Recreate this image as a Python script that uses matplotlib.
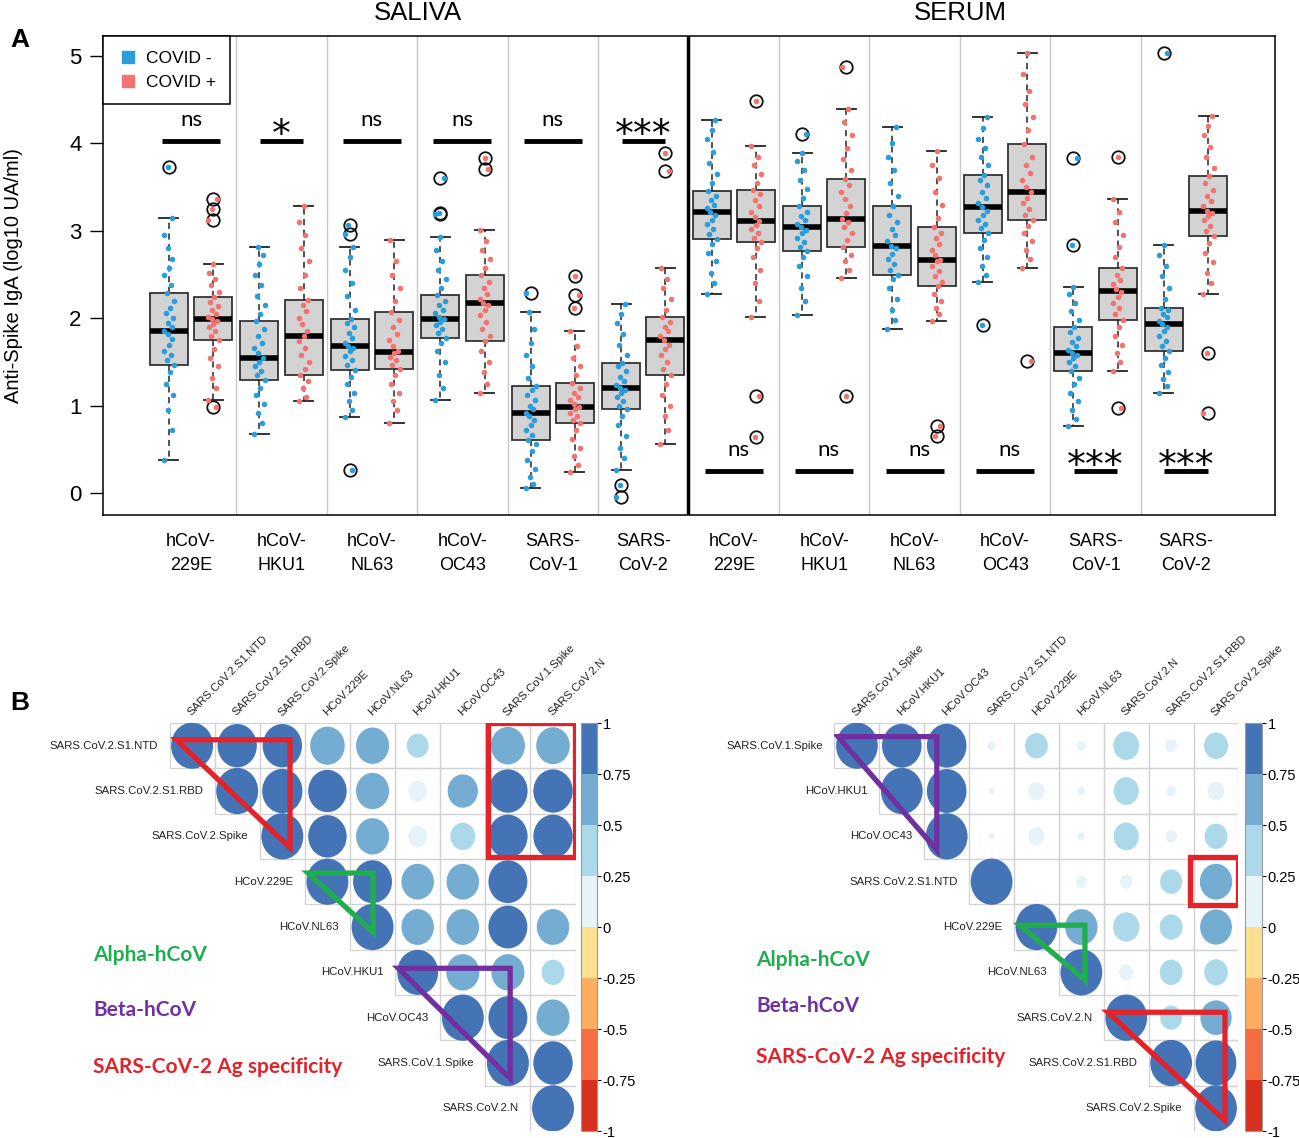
import matplotlib
matplotlib.use('Agg')
import matplotlib.pyplot as plt
import numpy as np
from matplotlib.lines import Line2D
from matplotlib.patches import Ellipse, Rectangle, Polygon
from matplotlib.colors import ListedColormap, BoundaryNorm
from matplotlib.cm import ScalarMappable

plt.rcParams['font.family'] = ['Liberation Sans', 'DejaVu Sans']

# ---------------- panel A data ----------------
virus_labels = ['hCoV-\n229E', 'hCoV-\nHKU1', 'hCoV-\nNL63', 'hCoV-\nOC43',
                'SARS-\nCoV-1', 'SARS-\nCoV-2'] * 2

# boxes in order: saliva 229E neg, saliva 229E pos, saliva HKU1 neg, ...
box_med = [1.85, 1.99, 1.55, 1.80, 1.68, 1.61, 1.99, 2.18, 0.92, 0.99, 1.20, 1.75,
           3.22, 3.11, 3.04, 3.14, 2.83, 2.67, 3.27, 3.44, 1.60, 2.31, 1.93, 3.23]
box_q1 = [1.46, 1.75, 1.29, 1.35, 1.41, 1.42, 1.78, 1.74, 0.61, 0.80, 0.96, 1.35,
          2.91, 2.87, 2.77, 2.82, 2.49, 2.37, 2.98, 3.12, 1.40, 1.98, 1.62, 2.94]
box_q3 = [2.29, 2.24, 1.97, 2.21, 1.99, 2.07, 2.27, 2.49, 1.23, 1.26, 1.49, 2.01,
          3.46, 3.47, 3.29, 3.59, 3.28, 3.04, 3.64, 3.99, 1.90, 2.57, 2.12, 3.63]
box_lo = [0.38, 1.06, 0.68, 1.05, 0.87, 0.80, 1.06, 1.15, 0.06, 0.24, 0.26, 0.56,
          2.28, 2.01, 2.04, 2.46, 1.88, 1.97, 2.41, 2.58, 0.77, 1.40, 1.14, 2.28]
box_hi = [3.15, 2.62, 2.81, 3.29, 2.81, 2.90, 2.93, 3.01, 2.07, 1.86, 2.16, 2.57,
          4.27, 3.97, 3.89, 4.40, 4.19, 3.91, 4.30, 5.04, 2.36, 3.37, 2.84, 4.32]
box_out = [[3.73], [3.37, 3.25, 3.12, 0.99], [], [], [3.07, 2.96, 0.26], [],
           [3.61, 3.21, 3.19], [3.83, 3.71], [2.29], [2.48, 2.27, 2.12], [0.09, -0.04], [3.89, 3.69],
           [], [4.49, 1.11, 0.64], [4.11], [4.87, 1.11], [], [0.77, 0.65],
           [1.92], [1.51], [3.83, 2.84], [3.84, 0.97], [5.03], [1.60, 0.92]]

points = [
    [0.38, 0.72, 0.95, 1.12, 1.25, 1.38, 1.46, 1.52, 1.58, 1.63, 1.7, 1.76, 1.82, 1.85, 1.9, 1.95, 2.0, 2.06, 2.12, 2.2, 2.29, 2.38, 2.5, 2.58, 2.68, 2.8, 2.95, 3.15],
    [1.06, 1.2, 1.32, 1.45, 1.55, 1.65, 1.75, 1.8, 1.85, 1.9, 1.94, 1.97, 1.99, 2.02, 2.05, 2.1, 2.14, 2.19, 2.24, 2.3, 2.38, 2.45, 2.52, 2.62],
    [0.68, 0.8, 0.92, 1.02, 1.12, 1.2, 1.29, 1.35, 1.4, 1.45, 1.5, 1.55, 1.6, 1.66, 1.72, 1.8, 1.88, 1.97, 2.05, 2.15, 2.25, 2.38, 2.5, 2.62, 2.72, 2.81],
    [1.05, 1.1, 1.2, 1.28, 1.35, 1.42, 1.5, 1.58, 1.66, 1.74, 1.8, 1.86, 1.93, 2.0, 2.08, 2.15, 2.21, 2.35, 2.5, 2.65, 2.8, 2.95, 3.1, 3.29],
    [0.87, 0.95, 1.05, 1.15, 1.25, 1.33, 1.41, 1.46, 1.52, 1.57, 1.62, 1.66, 1.68, 1.72, 1.77, 1.83, 1.9, 1.95, 1.99, 2.1, 2.25, 2.4, 2.55, 2.7, 2.81],
    [0.80, 0.95, 1.05, 1.15, 1.25, 1.35, 1.42, 1.47, 1.52, 1.56, 1.6, 1.63, 1.68, 1.75, 1.82, 1.9, 1.98, 2.07, 2.2, 2.35, 2.5, 2.65, 2.9],
    [1.06, 1.2, 1.35, 1.5, 1.62, 1.72, 1.78, 1.83, 1.88, 1.92, 1.96, 1.99, 2.02, 2.06, 2.1, 2.15, 2.2, 2.27, 2.35, 2.45, 2.55, 2.65, 2.78, 2.93],
    [1.15, 1.25, 1.38, 1.5, 1.62, 1.74, 1.8, 1.88, 1.96, 2.04, 2.1, 2.15, 2.18, 2.22, 2.28, 2.35, 2.42, 2.49, 2.58, 2.68, 2.78, 2.88, 3.01],
    [0.06, 0.1, 0.18, 0.28, 0.38, 0.48, 0.56, 0.61, 0.66, 0.72, 0.78, 0.84, 0.88, 0.92, 0.96, 1.0, 1.06, 1.12, 1.18, 1.23, 1.32, 1.45, 1.58, 1.72, 1.88, 2.07],
    [0.24, 0.32, 0.42, 0.52, 0.62, 0.72, 0.8, 0.84, 0.88, 0.92, 0.96, 0.99, 1.02, 1.06, 1.1, 1.15, 1.2, 1.26, 1.35, 1.45, 1.55, 1.68, 1.86],
    [0.26, 0.4, 0.52, 0.65, 0.78, 0.88, 0.96, 1.0, 1.05, 1.1, 1.14, 1.18, 1.2, 1.24, 1.28, 1.33, 1.4, 1.45, 1.49, 1.58, 1.7, 1.82, 1.95, 2.05, 2.16],
    [0.56, 0.72, 0.88, 1.0, 1.12, 1.25, 1.35, 1.42, 1.5, 1.58, 1.65, 1.7, 1.75, 1.8, 1.85, 1.9, 1.96, 2.01, 2.1, 2.22, 2.35, 2.45, 2.57],
    [2.28, 2.4, 2.52, 2.65, 2.75, 2.85, 2.91, 2.96, 3.02, 3.08, 3.13, 3.18, 3.22, 3.26, 3.3, 3.35, 3.4, 3.46, 3.55, 3.65, 3.78, 3.9, 4.05, 4.15, 4.27],
    [2.01, 2.2, 2.4, 2.55, 2.7, 2.8, 2.87, 2.92, 2.97, 3.02, 3.07, 3.11, 3.16, 3.22, 3.28, 3.35, 3.42, 3.47, 3.55, 3.65, 3.75, 3.85, 3.97],
    [2.04, 2.2, 2.35, 2.48, 2.6, 2.7, 2.77, 2.82, 2.87, 2.92, 2.97, 3.01, 3.04, 3.08, 3.12, 3.17, 3.22, 3.29, 3.38, 3.48, 3.58, 3.7, 3.8, 3.89],
    [2.46, 2.55, 2.65, 2.72, 2.82, 2.9, 2.98, 3.05, 3.1, 3.14, 3.2, 3.28, 3.36, 3.44, 3.52, 3.59, 3.7, 3.82, 3.95, 4.1, 4.25, 4.40],
    [1.88, 1.98, 2.1, 2.22, 2.35, 2.45, 2.49, 2.55, 2.62, 2.68, 2.74, 2.8, 2.83, 2.88, 2.95, 3.02, 3.1, 3.18, 3.28, 3.4, 3.55, 3.7, 3.85, 4.0, 4.19],
    [1.97, 2.05, 2.12, 2.2, 2.28, 2.37, 2.42, 2.48, 2.54, 2.6, 2.65, 2.67, 2.72, 2.78, 2.85, 2.92, 2.98, 3.04, 3.15, 3.3, 3.45, 3.6, 3.75, 3.91],
    [2.41, 2.5, 2.6, 2.7, 2.8, 2.9, 2.98, 3.03, 3.08, 3.13, 3.18, 3.23, 3.27, 3.32, 3.38, 3.45, 3.52, 3.58, 3.64, 3.75, 3.85, 3.95, 4.05, 4.18, 4.30],
    [2.58, 2.68, 2.78, 2.88, 2.98, 3.06, 3.12, 3.18, 3.25, 3.32, 3.38, 3.44, 3.5, 3.58, 3.66, 3.75, 3.85, 3.99, 4.15, 4.3, 4.45, 4.6, 4.8, 5.04],
    [0.77, 0.85, 0.95, 1.05, 1.15, 1.25, 1.32, 1.4, 1.45, 1.5, 1.54, 1.58, 1.6, 1.64, 1.68, 1.73, 1.78, 1.84, 1.9, 1.98, 2.08, 2.18, 2.28, 2.36],
    [1.40, 1.5, 1.6, 1.7, 1.8, 1.9, 1.98, 2.05, 2.12, 2.18, 2.24, 2.3, 2.34, 2.39, 2.44, 2.5, 2.57, 2.7, 2.82, 2.95, 3.1, 3.22, 3.37],
    [1.14, 1.22, 1.3, 1.38, 1.46, 1.55, 1.62, 1.68, 1.74, 1.8, 1.85, 1.9, 1.93, 1.97, 2.01, 2.05, 2.09, 2.12, 2.22, 2.35, 2.48, 2.6, 2.72, 2.84],
    [2.28, 2.4, 2.52, 2.64, 2.75, 2.86, 2.94, 3.0, 3.06, 3.12, 3.17, 3.21, 3.23, 3.28, 3.34, 3.4, 3.47, 3.55, 3.63, 3.72, 3.84, 3.96, 4.1, 4.2, 4.32],
]

sig_saliva = ['ns', '*', 'ns', 'ns', 'ns', '***']
sig_serum = ['ns', 'ns', 'ns', 'ns', '***', '***']

# ---------------- panel B data ----------------
left_names = ['SARS.CoV.2.S1.NTD', 'SARS.CoV.2.S1.RBD', 'SARS.CoV.2.Spike', 'HCoV.229E',
              'HCoV.NL63', 'HCoV.HKU1', 'HCoV.OC43', 'SARS.CoV.1.Spike', 'SARS.CoV.2.N']
# upper triangle, each row starts at the diagonal
left_corr = [
    [1.0, 0.88, 0.88, 0.68, 0.62, 0.27, 0.0, 0.66, 0.64],
    [1.0, 0.92, 0.84, 0.62, 0.2, 0.52, 0.88, 0.88],
    [1.0, 0.84, 0.62, 0.2, 0.35, 0.88, 0.88],
    [1.0, 0.86, 0.6, 0.6, 0.86, 0.0],
    [1.0, 0.6, 0.6, 0.86, 0.6],
    [0.95, 0.62, 0.62, 0.3],
    [1.0, 0.86, 0.62],
    [1.0, 0.88],
    [1.0],
]

right_names = ['SARS.CoV.1.Spike', 'HCoV.HKU1', 'HCoV.OC43', 'SARS.CoV.2.S1.NTD', 'HCoV.229E',
               'HCoV.NL63', 'SARS.CoV.2.N', 'SARS.CoV.2.S1.RBD', 'SARS.CoV.2.Spike']
right_corr = [
    [1.0, 0.9, 0.9, 0.04, 0.3, 0.05, 0.38, 0.08, 0.33],
    [1.0, 0.9, 0.02, 0.15, 0.03, 0.36, 0.05, 0.16],
    [1.0, 0.02, 0.15, 0.03, 0.36, 0.07, 0.3],
    [1.0, 0.0, 0.07, 0.09, 0.28, 0.6],
    [1.0, 0.6, 0.4, 0.3, 0.58],
    [1.0, 0.12, 0.3, 0.32],
    [1.0, 0.27, 0.56],
    [1.0, 0.95],
    [1.0],
]

cb_colors = ['#d7301f', '#f46d43', '#fdae61', '#fee090',
             '#e6f4f9', '#abd9e9', '#74add1', '#4574b6']
cb_bounds = [-1, -0.75, -0.5, -0.25, 0, 0.25, 0.5, 0.75, 1]
cb_labels = ['-1', '-0.75', '-0.5', '-0.25', '0', '0.25', '0.5', '0.75', '1']

BLUE = '#2a9ddb'
RED = '#f27470'
JIT = [-0.055, 0.03, -0.01, 0.05, -0.035, 0.01, 0.06, -0.025, 0.02, -0.05, 0.0, 0.04, -0.015]


def main():
    fig = plt.figure(figsize=(12.99, 11.38), dpi=100)

    # ---------- panel A ----------
    ax = fig.add_axes([0.0793, 0.5475, 0.9022, 0.4209])
    n_box = len(box_med)
    pos = []
    for k in range(n_box):
        g = k // 2 + 1
        pos.append(g - 0.245 if k % 2 == 0 else g + 0.245)

    stats = []
    for k in range(n_box):
        stats.append(dict(med=box_med[k], q1=box_q1[k], q3=box_q3[k],
                          whislo=box_lo[k], whishi=box_hi[k], fliers=box_out[k]))
    ax.bxp(stats, positions=pos, widths=0.42, patch_artist=True, capwidths=0.21,
           boxprops=dict(facecolor='#d3d3d3', edgecolor='#333333', linewidth=1.3),
           medianprops=dict(color='black', linewidth=4, solid_capstyle='butt'),
           whiskerprops=dict(color='#222222', linewidth=1.1, linestyle=(0, (4, 3))),
           capprops=dict(color='#222222', linewidth=1.3),
           flierprops=dict(marker='o', markerfacecolor='none', markeredgecolor='#111111',
                           markersize=9, markeredgewidth=1.3),
           zorder=2)

    for k in range(n_box):
        ys = points[k] + box_out[k]
        xs = pos[k] + np.resize(JIT, len(ys))
        ax.scatter(xs, ys, s=16, color=BLUE if k % 2 == 0 else RED, zorder=3,
                   linewidths=0)

    for x in np.arange(1.5, 12, 1.0):
        if x == 6.5:
            ax.axvline(x, color='black', lw=2.5, zorder=1)
        else:
            ax.axvline(x, color='#c8c8c8', lw=1, zorder=1)

    # significance
    for i, s in enumerate(sig_saliva):
        c = i + 1
        half = 0.32 if s == 'ns' else 0.24
        ax.plot([c - half, c + half], [4.03, 4.03], color='black', lw=3.5,
                solid_capstyle='butt')
        if s == 'ns':
            ax.text(c, 4.27, s, ha='center', va='center', fontsize=16, family='Lato')
        else:
            ax.text(c, 4.08, s, ha='center', va='center', fontsize=27,
                    family='DejaVu Sans')
    for i, s in enumerate(sig_serum):
        c = i + 7
        half = 0.32 if s == 'ns' else 0.24
        ax.plot([c - half, c + half], [0.25, 0.25], color='black', lw=3.5,
                solid_capstyle='butt')
        if s == 'ns':
            ax.text(c + 0.05, 0.49, s, ha='center', va='center', fontsize=16, family='Lato')
        else:
            ax.text(c, 0.30, s, ha='center', va='center', fontsize=27,
                    family='DejaVu Sans')

    ax.set_xlim(0.027, 12.984)
    ax.set_ylim(-0.25, 5.23)
    ax.set_yticks(range(6))
    ax.tick_params(axis='y', labelsize=16, length=9.5, width=1, pad=6)
    ax.set_xticks(range(1, 13))
    ax.set_xticklabels(virus_labels, fontsize=13, linespacing=1.55)
    ax.tick_params(axis='x', length=0, pad=13)
    ax.set_ylabel('Anti-Spike IgA (log10 UA/ml)', fontsize=14.5)
    ax.yaxis.set_label_coords(-0.068, 0.5)
    for sp in ax.spines.values():
        sp.set_linewidth(1.1)

    handles = [Line2D([], [], marker='s', linestyle='', color=BLUE, markersize=8),
               Line2D([], [], marker='s', linestyle='', color=RED, markersize=8)]
    leg = ax.legend(handles, ['COVID -', 'COVID +'], loc='upper left', fontsize=12.5,
                    borderaxespad=0, fancybox=False, edgecolor='black', framealpha=1,
                    handletextpad=0.4, borderpad=0.85, labelspacing=0.5, handlelength=1.2)
    leg.get_frame().set_linewidth(1.1)

    fig.text(0.322, 0.989, 'SALIVA', ha='center', va='center', fontsize=18.5)
    fig.text(0.739, 0.989, 'SERUM', ha='center', va='center', fontsize=18.5)
    fig.text(0.008, 0.965, 'A', fontsize=19, fontweight='bold', va='center')
    fig.text(0.008, 0.382, 'B', fontsize=19, fontweight='bold', va='center')

    # ---------- panel B ----------
    cmap = ListedColormap(cb_colors)
    norm = BoundaryNorm(cb_bounds, cmap.N)

    def draw_corr(axc, cax, names, corr):
        for i, row in enumerate(corr):
            for k, r in enumerate(row):
                j = i + k
                axc.add_patch(Rectangle((j - 0.5, i - 0.5), 1, 1, fc='none',
                                        ec='#d2d2d2', lw=0.9, zorder=1))
                if abs(r) > 0:
                    s = np.sqrt(abs(r))
                    axc.add_patch(Ellipse((j, i), 0.93 * s, 1.02 * s, fc=cmap(norm(r)),
                                          ec='none', zorder=2))
        for i, nm in enumerate(names):
            axc.text(i - 0.76, i, nm, ha='right', va='center', fontsize=8.2, color='#222222')
            axc.text(i + 0.02, -0.62, nm, rotation=45, rotation_mode='anchor',
                     ha='left', va='bottom', fontsize=8.2, color='#222222')
        axc.set_xlim(-0.5, 8.5)
        axc.set_ylim(8.5, -0.5)
        axc.axis('off')
        cb = fig.colorbar(ScalarMappable(norm=norm, cmap=cmap), cax=cax, ticks=cb_bounds)
        cb.ax.set_yticklabels(cb_labels)
        cb.ax.tick_params(labelsize=10.5, length=3, width=0.8, pad=1)
        cb.outline.set_edgecolor('#999999')
        cb.outline.set_linewidth(0.8)

    red = '#e3222a'
    green = '#20ad4e'
    purple = '#7030a0'
    lw_shape = 3.8

    axl = fig.add_axes([0.1305, 0.00615, 0.3126, 0.3585])
    caxl = fig.add_axes([0.4473, 0.00615, 0.0123, 0.3585])
    draw_corr(axl, caxl, left_names, left_corr)
    axl.add_patch(Polygon([(-0.35, -0.13), (2.17, -0.13), (2.17, 2.25)], closed=True,
                          fill=False, ec=red, lw=lw_shape, zorder=4, joinstyle='miter'))
    axl.add_patch(Rectangle((6.56, -0.5), 1.93, 2.95, fill=False, ec=red, lw=lw_shape,
                            zorder=4))
    axl.add_patch(Polygon([(2.57, 2.81), (4.01, 2.81), (4.01, 4.11)], closed=True,
                          fill=False, ec=green, lw=lw_shape, zorder=4, joinstyle='miter'))
    axl.add_patch(Polygon([(4.57, 4.91), (7.05, 4.91), (7.05, 7.34)], closed=True,
                          fill=False, ec=purple, lw=lw_shape, zorder=4, joinstyle='miter'))

    axr = fig.add_axes([0.6424, 0.00615, 0.311, 0.3585])
    caxr = fig.add_axes([0.9584, 0.00615, 0.0131, 0.3585])
    draw_corr(axr, caxr, right_names, right_corr)
    axr.add_patch(Polygon([(-0.42, -0.2), (1.78, -0.2), (1.78, 2.3)], closed=True,
                          fill=False, ec=purple, lw=lw_shape, zorder=4, joinstyle='miter'))
    axr.add_patch(Rectangle((7.42, 2.45), 1.07, 1.06, fill=False, ec=red, lw=lw_shape,
                            zorder=4))
    axr.add_patch(Polygon([(3.63, 3.96), (5.08, 3.96), (5.08, 5.17)], closed=True,
                          fill=False, ec=green, lw=lw_shape, zorder=4, joinstyle='miter'))
    axr.add_patch(Polygon([(5.59, 5.88), (8.2, 5.88), (8.2, 8.27)], closed=True,
                          fill=False, ec=red, lw=lw_shape, zorder=4, joinstyle='miter'))

    for x0, ys in [(0.0716, (0.1608, 0.1125, 0.0624)), (0.582, (0.1564, 0.116, 0.0712))]:
        fig.text(x0, ys[0], 'Alpha-hCoV', color=green, fontsize=15, fontweight='bold',
                 family='Lato', va='center')
        fig.text(x0, ys[1], 'Beta-hCoV', color=purple, fontsize=15, fontweight='bold',
                 family='Lato', va='center')
        fig.text(x0, ys[2], 'SARS-CoV-2 Ag specificity', color=red, fontsize=15,
                 fontweight='bold', family='Lato', va='center')

    fig.savefig('out.png', dpi=100)


if __name__ == "__main__":
    main()
